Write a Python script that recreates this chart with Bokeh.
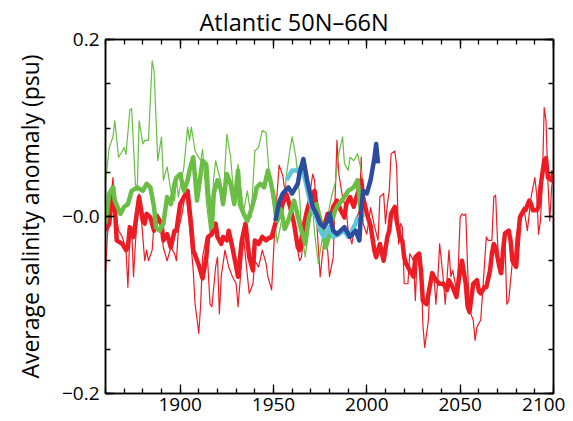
from bokeh.plotting import figure
from bokeh.models import LinearAxis, FixedTicker, Range1d
from bokeh.embed import file_html
from bokeh.resources import INLINE

# ---------------- data ----------------
thin_green_years = [1860, 1862, 1864, 1865, 1867, 1869, 1870, 1871, 1873, 1874, 1876, 1877, 1878, 1880,
                    1881, 1883, 1885, 1886, 1888, 1890, 1891, 1893, 1895, 1897, 1898, 1899, 1902, 1904,
                    1905, 1906, 1908, 1911, 1912, 1914, 1916, 1918, 1919, 1922, 1923, 1925, 1927, 1929,
                    1931, 1934, 1936, 1938, 1940, 1942, 1944, 1946, 1948, 1950, 1952, 1955, 1957, 1959,
                    1960, 1962, 1964, 1965, 1967, 1969, 1971, 1972, 1974, 1976, 1979, 1981, 1983, 1985,
                    1987, 1988, 1990, 1991, 1993, 1995, 1997, 1998]
thin_green_vals = [0.037, 0.078, 0.090, 0.108, 0.067, 0.074, 0.078, 0.070, 0.120, 0.122, 0.037, 0.029,
                   0.108, 0.082, 0.086, 0.086, 0.176, 0.165, 0.063, 0.090, 0.041, 0.056, 0.029, 0.018,
                   0.044, 0.022, 0.056, 0.101, 0.086, 0.101, 0.074, 0.063, 0.076, 0.018, -0.019, 0.044,
                   0.063, 0.037, 0.018, 0.093, 0.067, 0.018, 0.059, 0.007, 0.029, -0.001, 0.074, 0.078,
                   0.097, 0.095, 0.039, 0.010, -0.030, 0.003, 0.048, 0.078, 0.090, 0.067, 0.022, -0.016,
                   -0.046, -0.008, 0.011, -0.019, -0.053, -0.027, 0.000, 0.022, 0.037, 0.071, 0.090,
                   0.060, 0.052, 0.067, 0.063, 0.071, 0.052, 0.022]

thin_red_years = [1860, 1861, 1864, 1865, 1867, 1869, 1871, 1872, 1873, 1874, 1875, 1876, 1878, 1880,
                  1881, 1882, 1883, 1885, 1886, 1888, 1890, 1891, 1893, 1895, 1897, 1898, 1899, 1901,
                  1903, 1905, 1907, 1908, 1910, 1911, 1912, 1914, 1916, 1917, 1919, 1920, 1921, 1922,
                  1924, 1926, 1928, 1930, 1931, 1932, 1934, 1935, 1937, 1939, 1940, 1942, 1944, 1946,
                  1947, 1949, 1951, 1953, 1955, 1956, 1958, 1960, 1962, 1964, 1965, 1967, 1969, 1971,
                  1972, 1973, 1975, 1977, 1979, 1980, 1982, 1984, 1985, 1987, 1989, 1990, 1992, 1994,
                  1996, 1997, 1998, 2000, 2002, 2004, 2006, 2007, 2009, 2010, 2011, 2012, 2013, 2015,
                  2016, 2017, 2018, 2019, 2020, 2022, 2023, 2025, 2026, 2027, 2029, 2030, 2031, 2033,
                  2034, 2036, 2037, 2038, 2039, 2041, 2042, 2044, 2045, 2046, 2048, 2049, 2050, 2051,
                  2052, 2053, 2054, 2055, 2057, 2058, 2059, 2061, 2062, 2064, 2065, 2067, 2068, 2069,
                  2070, 2071, 2072, 2074, 2075, 2076, 2078, 2079, 2080, 2082, 2083, 2084, 2086, 2087,
                  2088, 2090, 2091, 2092, 2093, 2094, 2095, 2096, 2097, 2098, 2099, 2100]
thin_red_vals = [-0.064, -0.023, 0.044, 0.011, -0.016, -0.023, -0.038, -0.080, -0.023, -0.012, -0.068,
                 -0.031, 0.026, -0.023, -0.050, -0.038, -0.050, -0.038, -0.008, 0.003, -0.016, -0.035,
                 -0.050, -0.035, -0.042, -0.050, -0.016, 0.003, 0.029, -0.012, -0.061, -0.099, -0.132,
                 -0.099, -0.046, -0.023, -0.099, -0.102, -0.057, -0.046, -0.110, -0.068, -0.038, -0.057,
                 -0.068, -0.076, -0.102, -0.076, -0.023, -0.046, -0.087, -0.076, -0.050, -0.057, -0.038,
                 -0.053, -0.068, -0.083, -0.001, 0.058, 0.046, 0.030, 0.015, 0.000, -0.027, -0.050,
                 -0.046, -0.005, 0.018, 0.048, 0.041, -0.001, -0.068, -0.027, -0.038, -0.068, -0.046,
                 0.086, 0.048, 0.022, 0.007, -0.016, -0.031, -0.005, 0.007, 0.067, -0.008, -0.020,
                 0.010, -0.010, -0.027, 0.022, 0.026, -0.008, 0.014, 0.029, 0.071, 0.074, 0.056, -0.031,
                 -0.008, -0.012, -0.076, -0.076, -0.042, -0.050, -0.095, -0.042, -0.046, -0.121, -0.148,
                 -0.117, -0.068, -0.068, -0.099, -0.072, -0.031, -0.072, -0.099, -0.038, -0.068, -0.061,
                 -0.083, -0.057, -0.001, 0.003, 0.001, 0.003, -0.060, -0.106, -0.117, -0.140, -0.125,
                 -0.117, -0.087, -0.023, -0.027, -0.027, 0.022, 0.024, -0.027, -0.065, -0.053, -0.027,
                 -0.099, -0.095, -0.050, -0.050, -0.023, 0.003, 0.003, 0.011, -0.016, 0.003, 0.022,
                 0.044, 0.025, -0.020, -0.005, 0.037, 0.123, 0.108, 0.041, -0.005, 0.033, 0.048]

thick_green_years = [1860, 1862, 1864, 1865, 1868, 1870, 1872, 1874, 1877, 1880, 1882, 1884, 1886, 1887,
                     1889, 1891, 1893, 1895, 1897, 1898, 1900, 1902, 1904, 1905, 1907, 1908, 1909, 1911,
                     1912, 1914, 1915, 1917, 1918, 1920, 1922, 1923, 1925, 1927, 1929, 1931, 1932, 1934,
                     1936, 1938, 1940, 1941, 1943, 1945, 1947, 1948, 1950, 1952, 1954, 1956, 1958, 1961,
                     1964, 1965, 1967, 1969, 1971, 1973, 1976, 1978, 1980, 1981, 1983, 1985, 1988, 1990,
                     1993, 1995, 1997, 1998]
thick_green_vals = [-0.008, 0.026, 0.033, 0.018, 0.003, 0.011, 0.014, 0.029, 0.033, 0.029, 0.037, 0.033,
                    0.011, -0.012, -0.016, -0.008, 0.022, 0.014, 0.037, 0.044, 0.048, 0.029, 0.041, 0.052,
                    0.067, 0.044, 0.018, 0.048, 0.063, 0.059, 0.026, -0.012, 0.026, 0.041, 0.029, 0.014,
                    0.048, 0.037, 0.014, 0.052, 0.014, 0.003, -0.005, 0.007, 0.022, 0.033, 0.037, 0.033,
                    0.052, 0.044, 0.024, -0.005, 0.008, -0.014, -0.004, 0.018, -0.008, -0.016, -0.031,
                    -0.001, 0.011, 0.014, -0.012, -0.035, -0.020, -0.008, 0.007, 0.014, 0.022, 0.029,
                    0.033, 0.041, 0.003, -0.001]

thick_red_years = [1860, 1862, 1864, 1865, 1866, 1869, 1871, 1872, 1873, 1875, 1876, 1878, 1880, 1881,
                   1882, 1884, 1886, 1888, 1890, 1891, 1893, 1895, 1897, 1898, 1900, 1902, 1904, 1906,
                   1907, 1910, 1912, 1914, 1915, 1917, 1919, 1920, 1922, 1923, 1925, 1926, 1928, 1930,
                   1931, 1933, 1935, 1937, 1939, 1940, 1942, 1944, 1946, 1947, 1949, 1951, 1953, 1955,
                   1957, 1959, 1961, 1963, 1964, 1966, 1968, 1970, 1972, 1973, 1975, 1977, 1979, 1980,
                   1982, 1984, 1986, 1988, 1989, 1991, 1993, 1995, 1997, 1998, 2000, 2002, 2004, 2005,
                   2007, 2009, 2011, 2012, 2013, 2015, 2016, 2018, 2019, 2020, 2021, 2023, 2025, 2026,
                   2028, 2029, 2030, 2032, 2034, 2035, 2037, 2039, 2041, 2043, 2044, 2046, 2048, 2050,
                   2051, 2053, 2054, 2055, 2057, 2059, 2060, 2061, 2063, 2064, 2066, 2067, 2068, 2069,
                   2071, 2072, 2073, 2074, 2076, 2077, 2078, 2080, 2081, 2082, 2084, 2085, 2087, 2088,
                   2089, 2091, 2092, 2093, 2095, 2096, 2097, 2099, 2100]
thick_red_vals = [-0.016, -0.008, 0.033, 0.011, -0.027, -0.031, -0.038, -0.035, -0.012, -0.023, -0.008,
                  0.022, -0.005, -0.008, 0.003, -0.001, -0.016, -0.001, -0.008, -0.027, -0.020, -0.035,
                  -0.016, -0.016, 0.014, 0.022, 0.029, -0.012, -0.038, -0.055, -0.070, -0.046, -0.023,
                  -0.020, -0.008, -0.023, -0.031, -0.023, -0.027, -0.016, -0.035, -0.057, -0.068, -0.027,
                  -0.008, -0.046, -0.061, -0.027, -0.031, -0.023, -0.027, -0.025, -0.023, -0.008, 0.000,
                  0.015, 0.025, 0.010, -0.008, -0.035, -0.038, -0.012, 0.007, 0.022, 0.029, 0.011,
                  -0.005, -0.012, 0.003, -0.005, 0.011, 0.018, 0.007, -0.001, 0.014, 0.022, 0.011, 0.026,
                  0.041, 0.022, 0.003, -0.010, -0.038, -0.046, -0.031, -0.050, -0.023, -0.016, 0.003,
                  0.011, -0.005, -0.027, -0.027, -0.046, -0.053, -0.061, -0.068, -0.046, -0.042, -0.061,
                  -0.095, -0.099, -0.076, -0.064, -0.072, -0.076, -0.076, -0.083, -0.072, -0.080, -0.091,
                  -0.060, -0.050, -0.076, -0.102, -0.108, -0.076, -0.072, -0.084, -0.087, -0.080, -0.080,
                  -0.061, -0.042, -0.031, -0.035, -0.057, -0.064, -0.038, -0.019, -0.016, -0.027, -0.050,
                  -0.057, -0.027, -0.001, 0.007, 0.007, 0.018, 0.014, 0.007, 0.007, 0.011, 0.033, 0.063,
                  0.066, 0.044, 0.041, 0.052]

blue_years = [1951, 1953, 1955, 1958, 1960, 1963, 1964, 1966, 1968, 1970, 1971, 1973, 1975, 1977, 1979,
              1980, 1982, 1984, 1986, 1988, 1989, 1991, 1994, 1996, 1997, 1998, 2000, 2002, 2004, 2005,
              2006]
blue_vals = [-0.005, 0.016, 0.026, 0.033, 0.026, 0.037, 0.049, 0.065, 0.041, 0.022, 0.011, 0.003, -0.008,
             -0.012, -0.005, 0.003, -0.016, -0.020, -0.016, -0.012, -0.016, -0.023, -0.016, -0.027,
             0.007, 0.029, 0.026, 0.041, 0.065, 0.082, 0.060]

cyan_years = [1957, 1960, 1963, 1965, 1967, 1969, 1971, 1973, 1975, 1977, 1980, 1982, 1985, 1988, 1990,
              1992, 1994, 1995]
cyan_vals = [0.041, 0.052, 0.052, 0.056, 0.041, 0.022, 0.007, -0.001, -0.016, -0.023, -0.012, -0.023,
             -0.020, -0.016, -0.023, -0.016, -0.008, -0.001]

x_major = [1900, 1950, 2000, 2050, 2100]
x_minor = list(range(1860, 2101, 10))
y_major = [-0.2, 0.0, 0.2]
y_minor = [-0.2, -0.15, -0.1, -0.05, 0.0, 0.05, 0.1, 0.15, 0.2]
y_labels = {-0.2: "\u22120.2", 0.0: "\u22120.0", 0.2: "0.2"}

# ---------------- styles ----------------
RED = "#ED1C24"
GREEN = "#6ABD45"
BLUE = "#2E4C9E"
CYAN = "#5EC8DA"
FONT = "Open Sans"

p = figure(width=565, height=420, x_range=Range1d(1860, 2100), y_range=Range1d(-0.2, 0.2),
           output_backend="svg", toolbar_location=None, title="Atlantic  50N\u201366N",
           min_border_left=105, min_border_right=12, min_border_top=39, min_border_bottom=27)

p.title.text_font = FONT
p.title.text_font_size = "23.5px"
p.title.text_font_style = "normal"
p.title.text_color = "black"
p.title.align = "left"
p.title.offset = 94
p.title.standoff = 4
p.grid.visible = False
p.outline_line_color = "black"
p.outline_line_width = 1.5

xt = FixedTicker(ticks=x_major, minor_ticks=x_minor)
yt = FixedTicker(ticks=y_major, minor_ticks=y_minor)


def style_axis(ax, show_labels):
    ax.axis_line_color = "black"
    ax.axis_line_width = 1.5
    ax.major_tick_line_color = "black"
    ax.minor_tick_line_color = "black"
    ax.major_tick_line_width = 1.3
    ax.minor_tick_line_width = 1.3
    ax.major_tick_in = 9
    ax.major_tick_out = 0
    ax.minor_tick_in = 5
    ax.minor_tick_out = 0
    ax.major_label_text_font = FONT
    if show_labels:
        ax.major_label_text_color = "black"
        ax.major_label_text_font_size = "19px"
        ax.major_label_standoff = 6
    else:
        ax.major_label_text_color = None
        ax.major_label_text_font_size = "1px"
        ax.major_label_standoff = 0


p.xaxis.ticker = xt
p.yaxis.ticker = yt
p.yaxis.major_label_overrides = y_labels
for ax in p.xaxis + p.yaxis:
    style_axis(ax, True)
p.xaxis.major_label_standoff = 4
p.yaxis.axis_label = "Average salinity anomaly (psu)"
p.yaxis.axis_label_text_font = FONT
p.yaxis.axis_label_text_font_size = "23px"
p.yaxis.axis_label_text_font_style = "normal"
p.yaxis.axis_label_text_color = "black"
p.yaxis.axis_label_standoff = 13

top = LinearAxis(ticker=FixedTicker(ticks=x_major, minor_ticks=x_minor))
style_axis(top, False)
p.add_layout(top, "above")
right = LinearAxis(ticker=FixedTicker(ticks=y_major, minor_ticks=y_minor))
style_axis(right, False)
p.add_layout(right, "right")

p.line(thin_red_years, thin_red_vals, line_color=RED, line_width=1.2, line_join="round")
p.line(thin_green_years, thin_green_vals, line_color=GREEN, line_width=1.2, line_join="round")
p.line(thick_red_years, thick_red_vals, line_color=RED, line_width=4.5, line_join="round")
p.line(thick_green_years, thick_green_vals, line_color=GREEN, line_width=4.5, line_join="round")
p.line(cyan_years, cyan_vals, line_color=CYAN, line_width=4.5, line_join="round")
p.line(blue_years, blue_vals, line_color=BLUE, line_width=4.5, line_join="round")

open("out.html", "w").write(file_html(p, INLINE))
